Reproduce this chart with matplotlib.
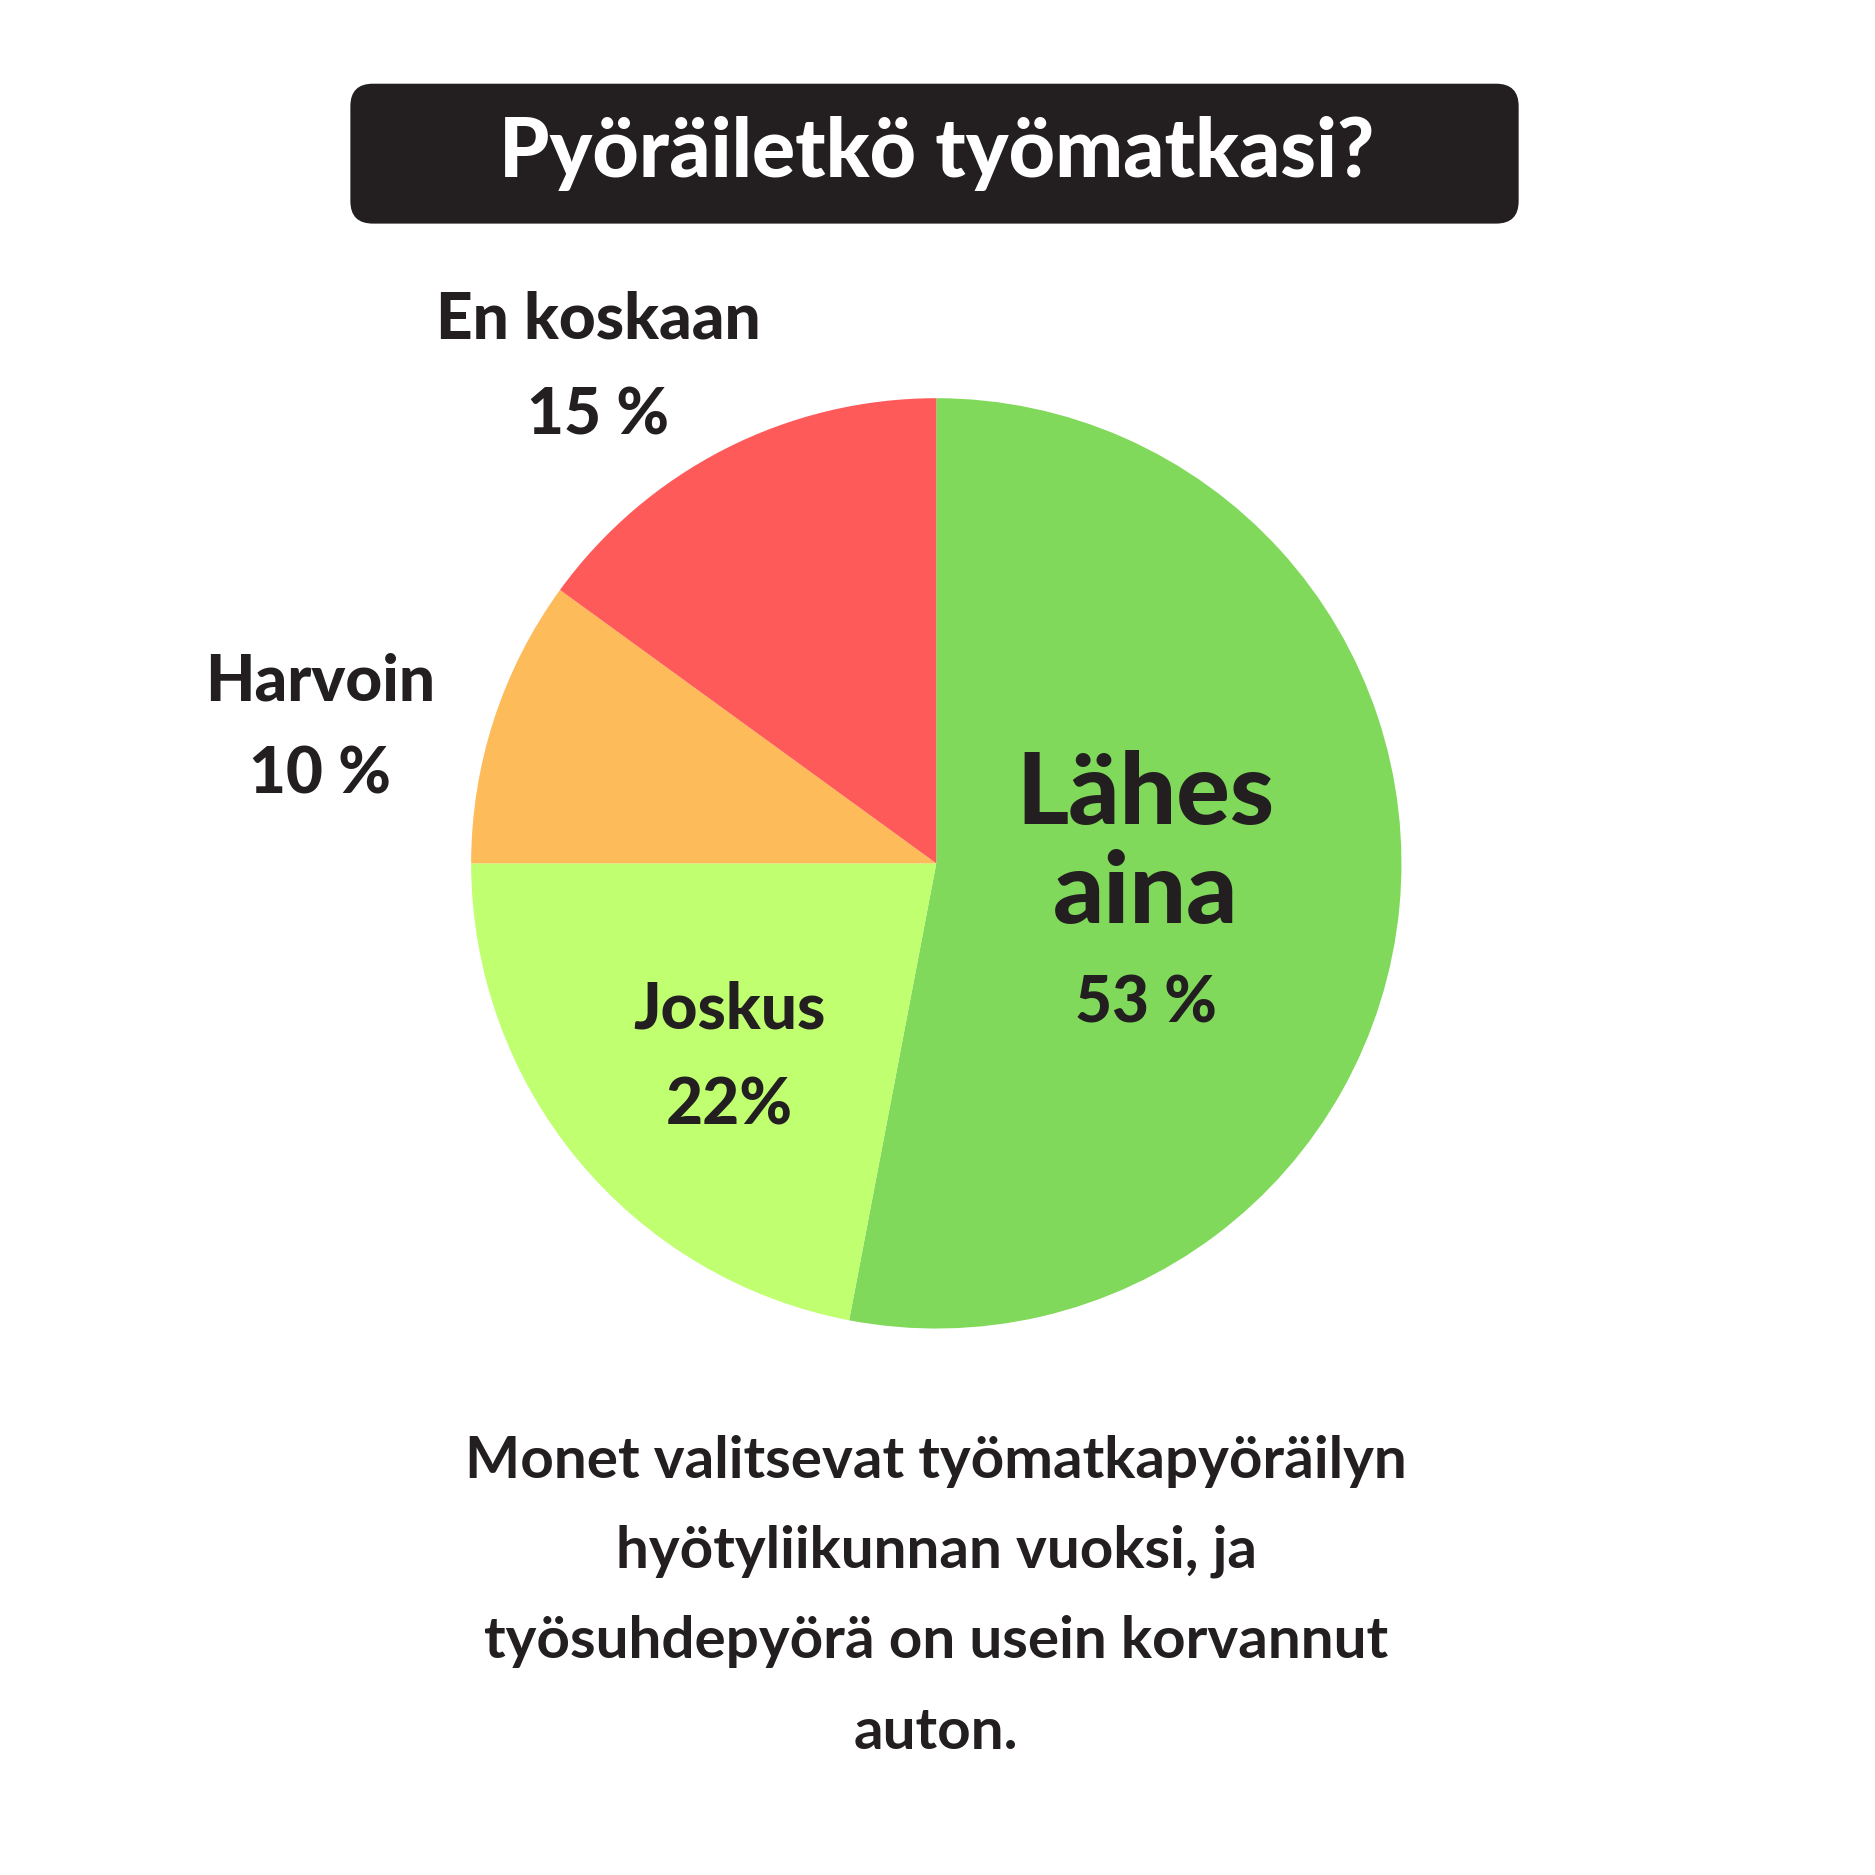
import matplotlib
matplotlib.use("Agg")
import matplotlib.pyplot as plt
from matplotlib.patches import FancyBboxPatch

categories = ["Lähes aina", "Joskus", "Harvoin", "En koskaan"]
values = [53, 22, 10, 15]
colors = ["#80D95A", "#C0FF70", "#FDBB5A", "#FF5A5A"]
title = "Pyöräiletkö työmatkasi?"
caption = ["Monet valitsevat työmatkapyöräilyn", "hyötyliikunnan vuoksi, ja",
           "työsuhdepyörä on usein korvannut", "auton."]

dark = "#231F20"
W = 1568.0
def fx(x): return x / W
def fy(y): return 1 - y / W

fig = plt.figure(figsize=(18.75, 18.75), dpi=100)
fig.patch.set_facecolor("white")
plt.rcParams['font.family'] = ['Lato', 'DejaVu Sans']

r = 389 / W
ax = fig.add_axes([fx(783) - r, fy(722) - r, 2 * r, 2 * r])
ax.pie(values, colors=colors, startangle=90, counterclock=False,
       wedgeprops=dict(linewidth=0))
ax.set_aspect("equal")
ax.set_xlim(-1, 1); ax.set_ylim(-1, 1)
ax.axis("off")

box = FancyBboxPatch((fx(293), fy(187)), fx(1270) - fx(293), fy(70) - fy(187),
                     boxstyle="round,pad=0,rounding_size=0.012",
                     transform=fig.transFigure, facecolor=dark, edgecolor="none")
fig.patches.append(box)
fig.text(fx(783), fy(128), title, color="white", fontsize=58, fontweight="black",
         ha="center", va="center")

def lab(x, y, s, size):
    fig.text(fx(x), fy(y), s, color=dark, fontsize=size, fontweight="black",
             ha="center", va="center")

lab(500, 268, "En koskaan", 46)
lab(500, 348, f"{values[3]} %", 46)
lab(268, 570, "Harvoin", 46)
lab(268, 648, f"{values[2]} %", 46)
lab(958, 665, "Lähes", 72)
lab(958, 748, "aina", 72)
lab(958, 840, f"{values[0]} %", 46)
lab(610, 845, "Joskus", 46)
lab(610, 925, f"{values[1]}%", 46)

for i, line in enumerate(caption):
    fig.text(fx(783), fy(1222 + i * 75.5), line, color=dark, fontsize=42,
             fontweight="bold", ha="center", va="center")

fig.savefig("out.png", dpi=100, facecolor="white")
